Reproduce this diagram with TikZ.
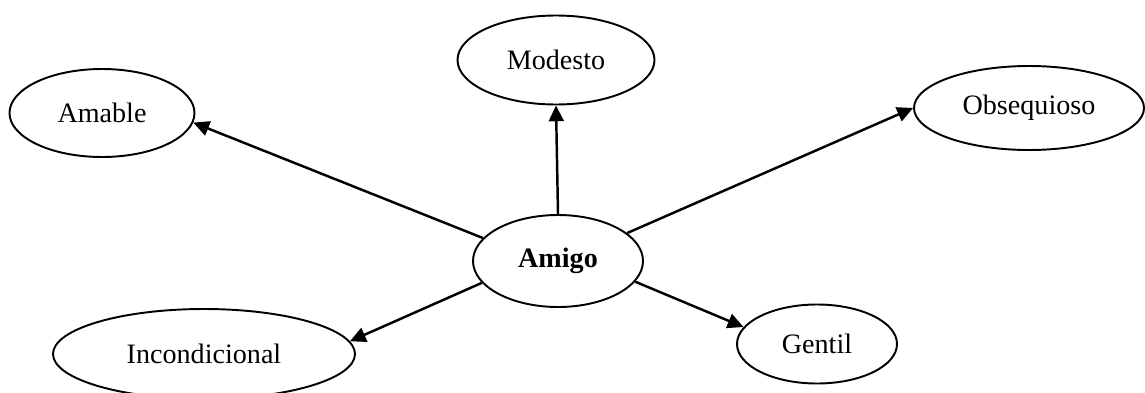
\documentclass[tikz,border=0pt]{standalone}
\usepackage{fontspec}
\setmainfont{Liberation Serif}
\usetikzlibrary{shapes.geometric,arrows.meta}
\begin{document}
\begin{tikzpicture}[x=0.02cm,y=-0.02cm,
  oval/.style={draw,ellipse,line width=1.1pt,inner sep=0pt,font=\fontsize{16}{18}\selectfont},
  conn/.style={line width=1.4pt,-{Triangle[length=9pt,width=8.5pt]}}]
\useasboundingbox (0,0) rectangle (1145,392);
\node[oval,minimum width=197*0.02cm,minimum height=89*0.02cm] (modesto) at (556,60) {Modesto};
\node[oval,minimum width=185*0.02cm,minimum height=88*0.02cm] (amable) at (102,113) {Amable};
\node[oval,minimum width=230*0.02cm,minimum height=84*0.02cm] (obseq) at (1029,108) {Obsequioso};
\node[oval,minimum width=170*0.02cm,minimum height=92*0.02cm,font=\fontsize{16}{18}\selectfont\bfseries] (amigo) at (558,261) {Amigo};
\node[oval,minimum width=302*0.02cm,minimum height=90*0.02cm] (incond) at (204,354) {Incondicional};
\node[oval,minimum width=160*0.02cm,minimum height=79*0.02cm] (gentil) at (817,344) {Gentil};
\draw[conn] (amigo.163) -- (amable.354);
\draw[conn] (amigo.90) -- (modesto.270);
\draw[conn] (amigo.22) -- (obseq.180);
\draw[conn] (amigo.196) -- (incond.5);
\draw[conn] (amigo.345) -- (gentil.167);
\end{tikzpicture}
\end{document}
